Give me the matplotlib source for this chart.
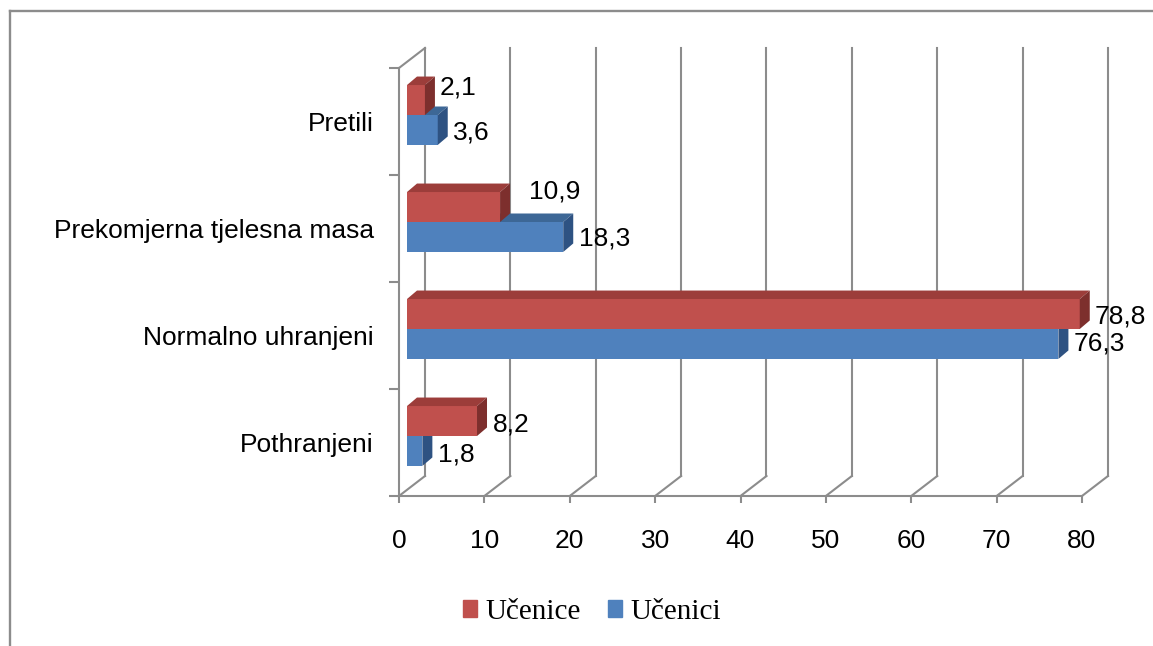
import numpy as np
import matplotlib.pyplot as plt
from matplotlib.patches import Polygon, Patch
from matplotlib.lines import Line2D

plt.rcParams['font.family'] = ['Liberation Sans', 'DejaVu Sans']

# Podaci
kategorije = ['Pothranjeni', 'Normalno uhranjeni', 'Prekomjerna tjelesna masa', 'Pretili']
ucenice = [8.2, 78.8, 10.9, 2.1]
ucenici = [1.8, 76.3, 18.3, 3.6]
x_ticks = [0, 10, 20, 30, 40, 50, 60, 70, 80]

# pomaci oznaka vrijednosti (px) - stil
ucenice_lbl = [(16, -3), (15, -2), (29, 16), (15, 13)]
ucenici_lbl = [(16, -4), (15, 0), (16, -2), (15, -3)]

W, H = 1153, 646
fig = plt.figure(figsize=(W / 100, H / 100), dpi=100)
ax = fig.add_axes([399 / W, 150 / H, 683 / W, 428 / H])
ax.set_xlim(0, 80)
ax.set_ylim(0, len(kategorije))

siva = '#8c8c8c'
o = ax.transData.transform([(0, 0), (1, 1)])
sx, sy = o[1] - o[0]


def px(dx, dy):
    return dx / sx, dy / sy


# 3D okvir: pod i zadnji zid
gx, gy = px(26, 20)
ytop = len(kategorije)
for x in x_ticks:
    ax.plot([x, x + gx], [0, gy], color=siva, lw=1.5, clip_on=False, zorder=1)
    ax.plot([x + gx, x + gx], [gy, ytop + gy], color=siva, lw=1.5, clip_on=False, zorder=1)
ax.plot([0, gx], [ytop, ytop + gy], color=siva, lw=1.5, clip_on=False, zorder=1)

for s in ['top', 'right']:
    ax.spines[s].set_visible(False)
for s in ['left', 'bottom']:
    ax.spines[s].set_color(siva)
    ax.spines[s].set_linewidth(1.5)

ax.set_xticks(x_ticks)
ax.tick_params(axis='x', length=5, width=1.5, color=siva, labelsize=19, pad=19)
centri = np.arange(len(kategorije)) + 0.5
ax.set_yticks(centri)
ax.set_yticklabels(kategorije)
ax.set_yticks(np.arange(len(kategorije) + 1), minor=True)
ax.tick_params(axis='y', which='major', length=0, labelsize=19, pad=18)
ax.tick_params(axis='y', which='minor', length=7, width=1.5, color=siva)
ax.set_facecolor('none')

# stupci
h = 0.28
fx, fy = px(8, 6.5)
dx, dy = px(10, 8.5)


def stupac(v, y0, c_front, c_top, c_side, z):
    ax.barh(y0 + fy, v, height=h, left=fx, align='edge', color=c_front, lw=0, zorder=z)
    y1 = y0 + fy + h
    ax.add_patch(Polygon([(fx, y1), (fx + v, y1), (fx + v + dx, y1 + dy), (fx + dx, y1 + dy)],
                         closed=True, color=c_top, lw=0, zorder=z, clip_on=False))
    ax.add_patch(Polygon([(fx + v, y0 + fy), (fx + v + dx, y0 + fy + dy),
                          (fx + v + dx, y1 + dy), (fx + v, y1)],
                         closed=True, color=c_side, lw=0, zorder=z, clip_on=False))


for i, c in enumerate(centri):
    stupac(ucenici[i], c - h, '#4f81bd', '#3d6796', '#2e5282', 2)
    stupac(ucenice[i], c, '#c0504d', '#9c3d3a', '#7d2f2d', 3)
    for v, y0, (ox, oy) in [(ucenici[i], c - h, ucenici_lbl[i]), (ucenice[i], c, ucenice_lbl[i])]:
        ax.annotate(f'{v:.1f}'.replace('.', ','), xy=(fx + v, y0 + fy + h / 2),
                    xytext=(ox, oy), textcoords='offset pixels', ha='left', va='center',
                    fontsize=19, annotation_clip=False, zorder=5)

for b in ax.patches:
    b.set_clip_on(False)

# okvir grafikona
fig.add_artist(Line2D([10 / W, 1], [1 - 11 / H, 1 - 11 / H], transform=fig.transFigure,
                      color=siva, lw=1.7))
fig.add_artist(Line2D([10 / W, 10 / W], [0, 1 - 11 / H], transform=fig.transFigure,
                      color=siva, lw=1.7))

# legenda
handles = [Patch(color='#c0504d', label='Učenice'), Patch(color='#4f81bd', label='Učenici')]
fig.legend(handles=handles, loc='center', bbox_to_anchor=(592 / W, 1 - 612 / H), ncol=2,
           frameon=False, handlelength=0.5, handleheight=0.5, handletextpad=0.3,
           columnspacing=0.9, prop={'family': 'Liberation Serif', 'size': 21})

fig.savefig('out.png', dpi=100)
